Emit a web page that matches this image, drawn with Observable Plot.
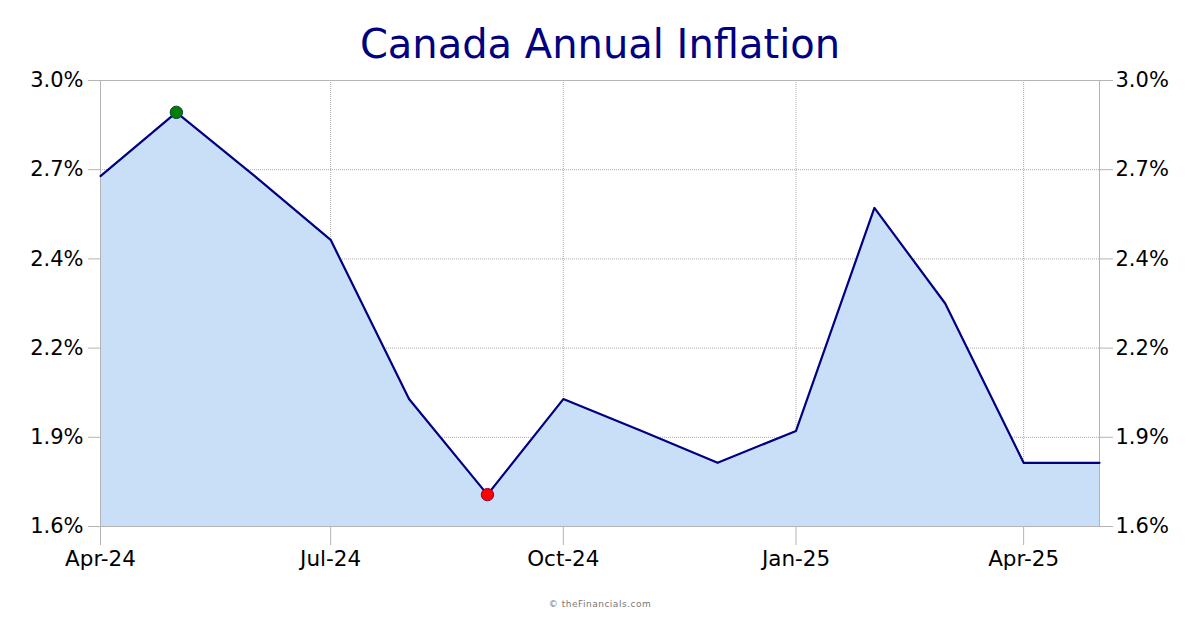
<!DOCTYPE html>
<html>
<head>
<meta charset="utf-8">
<script src="https://cdn.jsdelivr.net/npm/d3@7"></script>
<script src="https://cdn.jsdelivr.net/npm/@observablehq/plot@0.6"></script>
<style>
  html, body { margin: 0; padding: 0; background: #fff; overflow: hidden; }
  #title { height: 50px; text-align: center; color: #000080; font: 40px/88px "DejaVu Sans", sans-serif; position: relative; z-index: 1; }
  #chart { height: 530px; }
  #chart svg { display: block; }
  #credit { text-align: center; color: #777; font: 9px/14px "DejaVu Sans", sans-serif; letter-spacing: 0.5px; margin-top: 17px; }
</style>
</head>
<body>
<div id="title">Canada Annual Inflation</div>
<div id="chart"></div>
<div id="credit">© theFinancials.com</div>
<script>
const months = ["2024-04-01","2024-05-01","2024-06-01","2024-07-01","2024-08-01","2024-09-01","2024-10-01","2024-11-01","2024-12-01","2025-01-01","2025-02-01","2025-03-01","2025-04-01","2025-05-01"];
const inflation = [2.7, 2.9, 2.7, 2.5, 2.0, 1.7, 2.0, 1.9, 1.8, 1.9, 2.6, 2.3, 1.8, 1.8];
const yTicks = [1.6, 1.88, 2.16, 2.44, 2.72, 3.0];
const xTicks = ["2024-04-01","2024-07-01","2024-10-01","2025-01-01","2025-04-01"];
const yBase = 1.6;
const highMonth = "2024-05-01";
const lowMonth = "2024-09-01";

const parse = d3.utcParse("%Y-%m-%d");
const rows = months.map((m, i) => ({date: parse(m), value: inflation[i], key: m}));
const xTickDates = xTicks.map(parse);
const fmtX = d3.utcFormat("%b-%y");
const fmtY = d => d.toFixed(1) + "%";
const axisGray = "#b4b4b4";
const gridStyle = {stroke: "#aaaaaa", strokeOpacity: 1, strokeWidth: 1, strokeDasharray: "1,1"};

const plot = Plot.plot({
  width: 1200,
  height: 530,
  marginTop: 30,
  marginLeft: 100,
  marginRight: 101,
  marginBottom: 54,
  style: {fontFamily: "DejaVu Sans", fontSize: "21px", color: "#000", background: "transparent"},
  x: {type: "utc", domain: [parse(months[0]), parse(months[months.length - 1])]},
  y: {domain: [yBase, 3.0]},
  marks: [
    Plot.gridY(yTicks, gridStyle),
    Plot.gridX(xTickDates, gridStyle),
    Plot.areaY(rows, {x: "date", y1: yBase, y2: "value", fill: "#c9dff7", fillOpacity: 1}),
    Plot.frame({stroke: axisGray, strokeWidth: 1}),
    Plot.axisY(yTicks, {anchor: "left", tickSize: 12, tickPadding: 5, stroke: axisGray, strokeOpacity: 1, tickFormat: fmtY, label: null, fill: "#000", fontSize: 21}),
    Plot.axisY(yTicks, {anchor: "right", tickSize: 13, tickPadding: 3, stroke: axisGray, strokeOpacity: 1, tickFormat: fmtY, label: null, fill: "#000", fontSize: 21}),
    Plot.axisX(xTickDates, {anchor: "bottom", tickSize: 19, tickPadding: 5, stroke: axisGray, strokeOpacity: 1, tickFormat: fmtX, label: null, fill: "#000", fontSize: 21.5}),
    Plot.line(rows, {x: "date", y: "value", stroke: "#000080", strokeWidth: 2.2}),
    Plot.dot(rows.filter(d => d.key === highMonth), {x: "date", y: "value", r: 6.2, fill: "#008000", stroke: "#0b3d3d", strokeWidth: 1}),
    Plot.dot(rows.filter(d => d.key === lowMonth), {x: "date", y: "value", r: 6.2, fill: "#ff0000", stroke: "#800040", strokeWidth: 1})
  ]
});
document.getElementById("chart").appendChild(plot);
</script>
</body>
</html>
